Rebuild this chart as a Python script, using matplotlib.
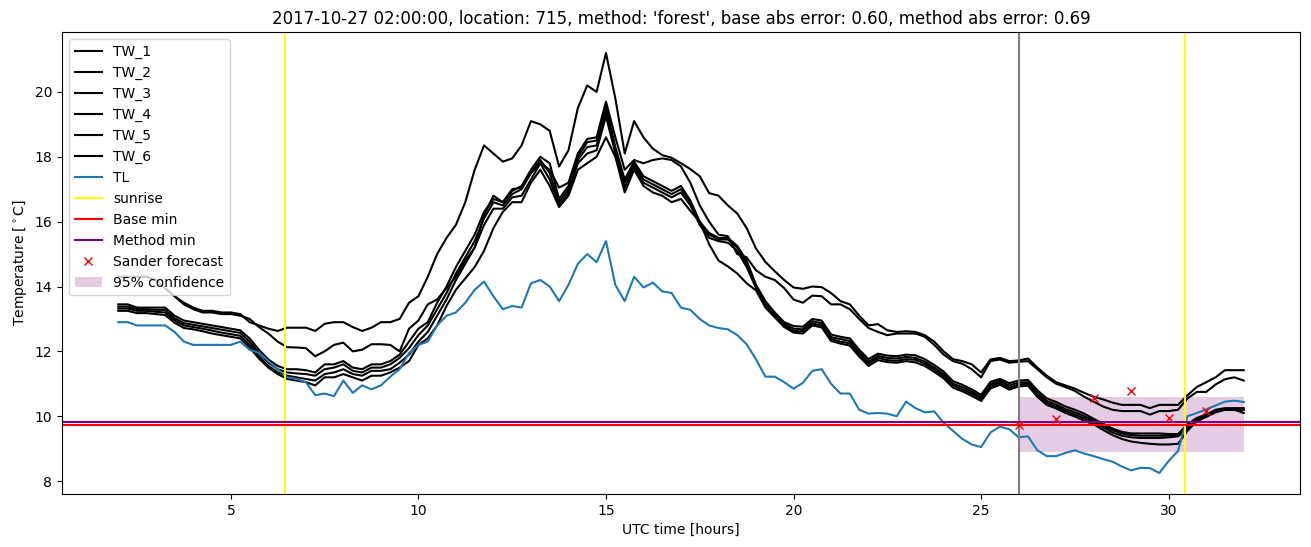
import numpy as np
import matplotlib
matplotlib.use("Agg")
import matplotlib.pyplot as plt

# time axis: every 15 minutes from 02:00 to 32:00 (UTC hours)
hours = np.arange(2.0, 32.01, 0.25)

tl = [12.9, 12.9, 12.8, 12.8, 12.8, 12.8, 12.6, 12.3,
      12.2, 12.2, 12.2, 12.2, 12.2, 12.3, 12.05, 11.95,
      11.7, 11.45, 11.2, 11.15, 11.05, 10.65, 10.7, 10.62,
      11.1, 10.72, 10.95, 10.83, 10.95, 11.22, 11.45, 11.95,
      12.2, 12.3, 12.8, 13.1, 13.2, 13.5, 13.9, 14.15,
      13.7, 13.3, 13.4, 13.35, 14.1, 14.2, 14.0, 13.55,
      14.05, 14.7, 15.0, 14.75, 15.4, 14.05, 13.55, 14.3,
      13.97, 14.12, 13.85, 13.8, 13.35, 13.28, 13.0, 12.8,
      12.72, 12.68, 12.5, 12.22, 11.75, 11.22, 11.22, 11.05,
      10.85, 11.03, 11.4, 11.45, 11.0, 10.7, 10.7, 10.2,
      10.08, 10.1, 10.08, 10.0, 10.45, 10.25, 10.12, 10.15,
      9.8, 9.55, 9.3, 9.13, 9.05, 9.5, 9.68, 9.6,
      9.35, 9.38, 8.95, 8.77, 8.77, 8.87, 8.95, 8.85,
      8.77, 8.68, 8.6, 8.45, 8.33, 8.41, 8.4, 8.25,
      8.62, 8.93, 10.0, 10.1, 10.21, 10.33, 10.45, 10.48,
      10.44]

tw_1 = [14.3, 14.3, 14.3, 14.3, 14.2, 13.95, 13.7, 13.5,
        13.35, 13.25, 13.25, 13.2, 13.2, 13.15, 12.9, 12.8,
        12.7, 12.63, 12.73, 12.73, 12.73, 12.63, 12.85, 12.9,
        12.9, 12.75, 12.63, 12.73, 12.9, 12.9, 13.0, 13.5,
        13.7, 14.3, 15.0, 15.5, 15.9, 16.6, 17.6, 18.35,
        18.1, 17.85, 17.95, 18.35, 19.1, 19.0, 18.8, 17.7,
        18.2, 19.5, 20.2, 20.0, 21.2, 19.8, 18.1, 19.1,
        18.6, 18.25, 18.05, 17.97, 17.8, 17.62, 17.4, 16.88,
        16.8, 16.5, 16.25, 15.8, 15.17, 14.76, 14.47, 14.2,
        13.97, 13.93, 14.0, 13.98, 13.8, 13.55, 13.45, 13.1,
        12.8, 12.84, 12.65, 12.6, 12.62, 12.6, 12.5, 12.3,
        12.0, 11.76, 11.7, 11.6, 11.35, 11.75, 11.8, 11.7,
        11.72, 11.78, 11.5, 11.25, 11.05, 10.95, 10.85, 10.72,
        10.6, 10.52, 10.42, 10.35, 10.35, 10.35, 10.25, 10.35,
        10.35, 10.35, 10.65, 10.9, 11.05, 11.2, 11.42, 11.42,
        11.42]

tw_2 = [14.3, 14.3, 14.3, 14.3, 14.2, 13.95, 13.7, 13.45,
        13.3, 13.2, 13.2, 13.15, 13.15, 13.1, 13.0, 12.75,
        12.55, 12.3, 12.13, 12.12, 12.1, 11.85, 12.0, 12.2,
        12.27, 12.0, 12.05, 12.22, 12.22, 12.2, 12.0, 12.7,
        12.95, 13.45, 13.6, 13.95, 14.3, 14.8, 15.2, 16.2,
        16.8, 16.6, 17.0, 17.05, 17.5, 17.8, 17.6, 17.05,
        17.2, 18.1, 18.55, 18.6, 19.7, 18.6, 17.6, 17.9,
        17.8, 17.9, 17.95, 17.9, 17.7, 17.2, 16.5, 16.0,
        15.6, 15.55, 15.0, 14.9, 14.5, 14.3, 14.2, 13.95,
        13.6, 13.5, 13.72, 13.7, 13.45, 13.45, 13.3, 13.0,
        12.72, 12.6, 12.5, 12.55, 12.55, 12.55, 12.45, 12.2,
        11.9, 11.7, 11.62, 11.45, 11.2, 11.7, 11.75, 11.65,
        11.68, 11.7, 11.45, 11.2, 11.0, 10.9, 10.78, 10.6,
        10.45, 10.3, 10.2, 10.16, 10.16, 10.16, 10.05, 10.16,
        10.16, 10.2, 10.55, 10.75, 10.75, 10.98, 11.14, 11.2,
        11.1]

tw_3 = [13.45, 13.45, 13.35, 13.35, 13.35, 13.35, 13.1, 12.95,
        12.9, 12.85, 12.8, 12.75, 12.7, 12.65, 12.4, 12.05,
        11.75, 11.55, 11.45, 11.45, 11.42, 11.35, 11.6, 11.6,
        11.7, 11.5, 11.45, 11.6, 11.6, 11.7, 11.9, 12.3,
        12.7, 12.9, 13.5, 14.0, 14.6, 15.1, 15.6, 16.3,
        16.7, 16.6, 16.95, 17.1, 17.6, 18.0, 17.8, 16.7,
        17.1, 18.0, 18.45, 18.5, 19.55, 18.3, 17.3, 17.85,
        17.4, 17.25, 17.1, 16.95, 17.1, 16.65, 16.0, 15.65,
        15.5, 15.5, 15.25, 14.8, 14.05, 13.55, 13.2, 12.9,
        12.78, 12.76, 13.0, 12.95, 12.52, 12.45, 12.4, 12.05,
        11.76, 11.93, 11.87, 11.85, 11.9, 11.88, 11.76, 11.58,
        11.38, 11.08, 10.97, 10.83, 10.66, 11.06, 11.15, 11.02,
        11.1, 11.12, 10.8, 10.55, 10.44, 10.3, 10.2, 10.08,
        9.92, 9.77, 9.62, 9.52, 9.47, 9.47, 9.47, 9.47,
        9.45, 9.45, 9.75, 9.95, 10.05, 10.2, 10.25, 10.25,
        10.25]

tw_4 = [13.38, 13.38, 13.3, 13.3, 13.28, 13.28, 13.02, 12.87,
        12.82, 12.77, 12.72, 12.67, 12.62, 12.57, 12.3, 11.95,
        11.65, 11.45, 11.35, 11.32, 11.3, 11.25, 11.45, 11.5,
        11.6, 11.4, 11.35, 11.5, 11.5, 11.6, 11.8, 12.1,
        12.5, 12.8, 13.3, 13.8, 14.4, 14.9, 15.4, 16.1,
        16.6, 16.5, 16.85, 17.0, 17.5, 17.9, 17.5, 16.6,
        17.0, 17.9, 18.3, 18.35, 19.4, 18.2, 17.2, 17.8,
        17.3, 17.15, 17.0, 16.85, 17.0, 16.6, 15.95, 15.6,
        15.45, 15.45, 15.2, 14.7, 14.0, 13.45, 13.15, 12.85,
        12.7, 12.68, 12.93, 12.87, 12.44, 12.38, 12.32, 11.97,
        11.68, 11.86, 11.8, 11.78, 11.83, 11.8, 11.68, 11.5,
        11.3, 11.0, 10.9, 10.76, 10.59, 10.99, 11.09, 10.95,
        11.04, 11.05, 10.72, 10.47, 10.36, 10.22, 10.12, 10.0,
        9.87, 9.72, 9.57, 9.47, 9.42, 9.4, 9.4, 9.4,
        9.4, 9.42, 9.7, 9.9, 10.0, 10.15, 10.22, 10.22,
        10.2]

tw_5 = [13.32, 13.32, 13.25, 13.25, 13.22, 13.2, 12.95, 12.8,
        12.75, 12.7, 12.64, 12.58, 12.53, 12.48, 12.2, 11.85,
        11.55, 11.35, 11.25, 11.2, 11.15, 11.1, 11.3, 11.35,
        11.45, 11.3, 11.25, 11.4, 11.4, 11.45, 11.65, 11.9,
        12.3, 12.6, 13.1, 13.6, 14.2, 14.7, 15.2, 15.9,
        16.4, 16.4, 16.75, 16.8, 17.3, 17.8, 17.3, 16.5,
        16.9, 17.8, 18.1, 18.2, 19.25, 18.1, 17.05, 17.7,
        17.2, 17.05, 16.9, 16.75, 16.9, 16.5, 15.9, 15.5,
        15.4, 15.35, 15.1, 14.6, 13.95, 13.4, 13.1, 12.8,
        12.63, 12.62, 12.86, 12.8, 12.38, 12.3, 12.25, 11.9,
        11.62, 11.8, 11.73, 11.71, 11.76, 11.74, 11.62, 11.44,
        11.24, 10.95, 10.83, 10.7, 10.53, 10.93, 11.03, 10.88,
        10.98, 11.0, 10.66, 10.41, 10.3, 10.16, 10.05, 9.93,
        9.82, 9.66, 9.5, 9.4, 9.35, 9.33, 9.33, 9.33,
        9.35, 9.38, 9.62, 9.85, 9.98, 10.12, 10.2, 10.2,
        10.1]

tw_6 = [13.25, 13.25, 13.18, 13.18, 13.15, 13.12, 12.88, 12.72,
        12.68, 12.62, 12.55, 12.5, 12.45, 12.4, 12.12, 11.78,
        11.5, 11.3, 11.15, 11.1, 11.05, 10.95, 11.2, 11.2,
        11.3, 11.2, 11.1, 11.25, 11.25, 11.35, 11.5, 11.7,
        12.2, 12.4, 12.8, 13.4, 13.9, 14.25, 14.6, 15.1,
        15.8, 16.3, 16.6, 16.6, 17.2, 17.6, 17.1, 16.45,
        16.8, 17.6, 17.8, 18.0, 18.6, 18.0, 16.9, 17.6,
        17.1, 16.9, 16.8, 16.6, 16.7, 16.33, 16.0, 15.3,
        14.8, 14.62, 14.4, 14.1, 13.88, 13.35, 13.05, 12.75,
        12.58, 12.55, 12.8, 12.74, 12.32, 12.24, 12.18, 11.84,
        11.55, 11.73, 11.67, 11.65, 11.7, 11.66, 11.55, 11.37,
        11.17, 10.88, 10.77, 10.63, 10.47, 10.86, 10.97, 10.82,
        10.92, 10.94, 10.6, 10.35, 10.24, 10.1, 9.99, 9.86,
        9.75, 9.58, 9.42, 9.3, 9.22, 9.18, 9.15, 9.13,
        9.13, 9.15, 9.55, 9.85, 10.0, 10.15, 10.2, 10.2,
        10.2]

tw_series = [tw_1, tw_2, tw_3, tw_4, tw_5, tw_6]
tw_names = ["TW_1", "TW_2", "TW_3", "TW_4", "TW_5", "TW_6"]

sunrise = [6.44, 30.43]
forecast_time = 26.0
base_min = 9.73
method_min = 9.82

sander_hours = [26, 27, 28, 29, 30, 31]
sander_temp = [9.73, 9.92, 10.55, 10.78, 9.94, 10.16]

conf_hours = [26.0, 32.0]
conf_low = 8.9
conf_high = 10.6

fig = plt.figure(figsize=(13.11, 5.47), dpi=100)
ax = fig.add_axes([0.0473, 0.0969, 0.9443, 0.8446])

for vals, name in zip(tw_series, tw_names):
    ax.plot(hours, vals, color="black", label=name)
ax.plot(hours, tl, color="C0", label="TL")

ax.axvline(sunrise[0], color="yellow", label="sunrise")
ax.axvline(sunrise[1], color="yellow")
ax.axvline(forecast_time, color="grey")
ax.axhline(base_min, color="red", label="Base min")
ax.axhline(method_min, color="purple", label="Method min")
ax.plot(sander_hours, sander_temp, "x", color="red", label="Sander forecast")
ax.fill_between(conf_hours, conf_low, conf_high, color="purple", alpha=0.2,
                linewidth=0, label="95% confidence")

ax.set_title("2017-10-27 02:00:00, location: 715, method: 'forest', "
             "base abs error: 0.60, method abs error: 0.69")
ax.set_xlabel("UTC time [hours]")
ax.set_ylabel(r"Temperature [$^\circ$C]")
ax.legend(loc="upper left")

fig.savefig("out.png", dpi=100)
